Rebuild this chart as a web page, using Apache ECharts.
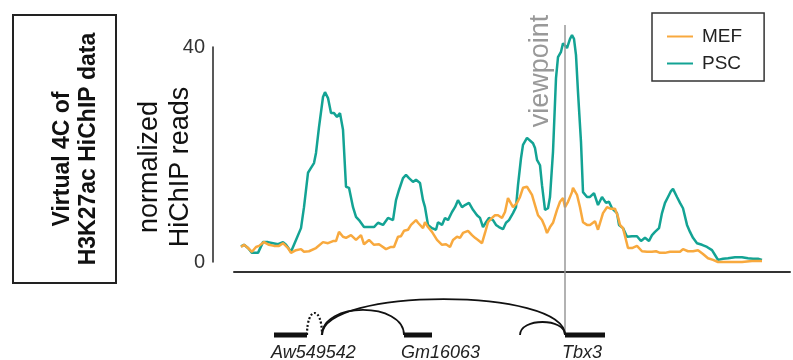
<!DOCTYPE html>
<html><head><meta charset="utf-8">
<script src="https://cdn.jsdelivr.net/npm/echarts@6/dist/echarts.min.js"></script>
<style>html,body{margin:0;padding:0;background:#fff}#c{width:793px;height:360px}</style>
</head><body><div id="c"></div>
<script>
// ---- data (position in bins along the locus, normalized HiChIP reads) ----
const seriesNames = ['MEF', 'PSC'];
const yTicks = [0, 40];
const pscReads = [[1,2.9],[4,3.2],[8,2.6],[12,1.7],[18,1.7],[23,3.7],[28,3.7],[33,3.5],[38,3.3],[43,3.7],[46,3.2],[51,1.9],[56,4.1],[61,6.3],[64,10.2],[68,16.6],[71,17.5],[74,18.4],[76,20.3],[79,25.1],[83,30.7],[85,31.6],[88,30.5],[91,27.7],[94,27.7],[97,27.0],[100,27.7],[103,24.6],[106,14.0],[109,13.8],[113,10.2],[116,8.4],[119,7.8],[124,6.5],[129,6.5],[134,6.5],[138,7.3],[143,6.9],[148,8.2],[153,7.8],[156,11.5],[159,13.4],[163,15.6],[166,16.2],[169,15.6],[173,14.9],[176,15.3],[180,14.7],[183,11.5],[185,10.2],[188,6.9],[192,6.3],[196,6.0],[198,7.4],[202,6.9],[205,8.2],[208,7.8],[212,9.3],[215,10.2],[218,11.5],[222,10.2],[225,10.6],[229,11.0],[233,9.7],[237,8.7],[240,8.2],[243,6.5],[246,7.4],[249,8.2],[253,7.8],[256,6.9],[259,6.5],[263,6.1],[266,7.3],[269,7.8],[273,9.1],[276,10.2],[278,14.3],[281,19.3],[283,21.8],[287,23.1],[289,23.1],[293,22.1],[295,21.2],[297,19.0],[300,18.0],[302,14.3],[305,9.7],[308,10.0],[310,12.1],[313,20.5],[316,34.2],[318,38.1],[321,39.1],[323,40.7],[327,39.8],[330,41.5],[332,42.2],[334,41.5],[336,38.5],[338,31.6],[341,22.3],[343,13.0],[347,12.1],[350,12.1],[354,12.8],[358,10.6],[362,12.1],[366,11.0],[369,11.2],[372,10.0],[374,10.2],[377,9.1],[379,6.9],[383,6.3],[387,4.7],[392,4.8],[397,4.8],[401,3.9],[405,4.5],[409,3.9],[412,5.0],[415,5.6],[419,6.3],[422,9.1],[425,11.0],[428,12.1],[431,13.2],[433,13.6],[437,12.1],[440,11.0],[443,10.0],[447,6.9],[450,5.6],[453,4.5],[457,3.5],[462,3.2],[467,2.8],[472,2.2],[475,1.3],[478,0.4],[483,0.6],[488,0.7],[495,0.9],[502,0.9],[508,0.7],[513,0.6],[518,0.6],[522,0.4]];
const mefReads = [[1,2.8],[4,3.2],[8,2.6],[12,1.9],[16,2.8],[19,3.0],[24,3.7],[29,3.2],[34,3.0],[39,3.0],[43,3.5],[48,2.6],[51,1.7],[56,2.2],[61,2.4],[64,1.9],[69,2.0],[76,2.6],[83,3.7],[88,3.5],[93,3.9],[96,3.9],[99,5.6],[103,4.7],[106,4.5],[111,5.0],[116,4.1],[121,5.0],[124,3.3],[129,4.1],[134,3.2],[139,3.3],[146,2.4],[151,2.8],[154,2.8],[158,4.7],[161,4.8],[164,5.8],[168,6.0],[171,6.9],[176,7.8],[178,7.3],[183,6.3],[185,7.4],[188,6.5],[192,5.6],[197,4.1],[202,3.2],[206,3.3],[210,2.8],[213,4.1],[217,4.7],[220,4.5],[223,5.4],[228,5.8],[232,5.0],[235,4.5],[238,4.1],[242,3.5],[245,5.4],[248,7.4],[252,8.2],[255,8.7],[258,8.7],[262,8.2],[265,9.3],[268,11.9],[270,11.9],[273,10.2],[277,11.0],[280,12.1],[283,13.8],[287,14.0],[289,14.0],[292,12.5],[295,10.6],[298,8.7],[302,7.8],[305,6.5],[307,5.4],[310,6.5],[313,7.3],[317,9.7],[320,11.2],[323,11.9],[325,10.2],[328,11.2],[332,13.0],[333,13.8],[337,12.5],[340,10.2],[343,7.4],[347,6.9],[350,6.9],[355,7.6],[358,6.0],[360,6.3],[363,9.1],[367,10.2],[371,9.9],[375,9.9],[378,8.4],[380,6.9],[383,6.3],[386,4.1],[388,2.6],[392,2.6],[397,3.0],[402,2.0],[407,1.9],[412,1.9],[416,2.0],[420,1.7],[425,1.7],[430,1.9],[435,1.9],[440,1.9],[443,2.4],[448,2.0],[453,2.0],[458,2.2],[463,1.5],[468,0.7],[473,0.4],[478,0.0],[485,0.0],[495,0.0],[502,0.0],[512,0.2],[522,0.2]];
const viewpointPos = 325;
const geneNames = ['Aw549542', 'Gm16063', 'Tbx3'];
const geneStart = [34, 164, 325];
const geneEnd = [67, 192, 365];
const loopFrom = [67, 82, 82, 280];
const loopTo = [82, 164, 325, 325];
const loopHeight = [7.1, 8.1, 11.6, 4.2];
const loopDashed = [1, 0, 0, 0];

// ---- chart ----
const FONT = '"Liberation Sans", Arial, Helvetica, sans-serif';
const chart = echarts.init(document.getElementById('c'), null, {renderer: 'canvas'});
const option = {
  animation: false,
  textStyle: {fontFamily: FONT},
  grid: [
    {left: 234, top: 47, width: 556, height: 215},
    {left: 234, top: 25, width: 556, height: 310}
  ],
  xAxis: [
    {type: 'value', gridIndex: 0, min: -6, max: 550, offset: 10,
     axisLine: {show: true, onZero: false, lineStyle: {color: '#333', width: 2}},
     axisTick: {show: false}, axisLabel: {show: false}, splitLine: {show: false}},
    {type: 'value', gridIndex: 1, min: -6, max: 550, show: false}
  ],
  yAxis: [
    {type: 'value', gridIndex: 0, min: yTicks[0], max: yTicks[1], interval: yTicks[1] - yTicks[0], offset: 21,
     axisLine: {show: true, onZero: false, lineStyle: {color: '#222', width: 1.5}},
     axisTick: {show: false},
     axisLabel: {fontSize: 20, color: '#333', margin: 8, padding: [0, 0, 6, 0], fontFamily: FONT},
     splitLine: {show: false}},
    {type: 'value', gridIndex: 1, min: 0, max: 100, show: false}
  ],
  legend: {
    data: seriesNames, orient: 'vertical', left: 652, top: 13,
    padding: [14, 22, 8, 15], itemGap: 8, itemWidth: 26, itemHeight: 2, icon: 'rect',
    borderColor: '#333', borderWidth: 1.5,
    textStyle: {fontSize: 19, color: '#222', fontFamily: FONT, padding: [0, 0, 0, 4]}
  },
  graphic: [
    {type: 'rect', shape: {x: 13, y: 15, width: 103, height: 268},
     style: {fill: 'none', stroke: '#222', lineWidth: 2}},
    {type: 'text', x: 63, y: 159, rotation: Math.PI / 2,
     style: {text: 'Virtual 4C of', fontSize: 23, fontWeight: 'bold',
             fontFamily: FONT, fill: '#111', align: 'center', verticalAlign: 'middle'}},
    {type: 'text', x: 89, y: 149, rotation: Math.PI / 2,
     style: {text: 'H3K27ac HiChIP data', fontSize: 23, fontWeight: 'bold',
             fontFamily: FONT, fill: '#111', align: 'center', verticalAlign: 'middle'}},
    {type: 'text', x: 165, y: 167, rotation: Math.PI / 2,
     style: {text: 'normalized\nHiChIP reads', fontSize: 27, lineHeight: 31,
             fontFamily: FONT, fill: '#111', align: 'center', verticalAlign: 'middle'}},
    {type: 'text', x: 541, y: 71, rotation: Math.PI / 2,
     style: {text: 'viewpoint', fontSize: 27, fontFamily: FONT, fill: '#999',
             align: 'center', verticalAlign: 'middle'}}
  ],
  series: [
    {name: 'PSC', type: 'line', xAxisIndex: 0, yAxisIndex: 0, data: pscReads, clip: false,
     showSymbol: false, symbol: 'none', color: '#13a394',
     lineStyle: {width: 2.5, color: '#13a394'}, z: 3},
    {name: 'MEF', type: 'line', xAxisIndex: 0, yAxisIndex: 0, data: mefReads, clip: false,
     showSymbol: false, symbol: 'none', color: '#f8a93e',
     lineStyle: {width: 2.5, color: '#f8a93e'}, z: 4},
    {type: 'line', xAxisIndex: 1, yAxisIndex: 1, data: [[viewpointPos, 0]],
     showSymbol: false, symbol: 'none', lineStyle: {width: 0}, silent: true, z: 1,
     markLine: {silent: true, symbol: ['none', 'none'], label: {show: false},
       lineStyle: {color: '#999', width: 1.5, type: 'solid'},
       data: [{xAxis: viewpointPos}]}},
    {type: 'custom', xAxisIndex: 1, yAxisIndex: 1, clip: false, silent: true, z: 5,
     data: loopFrom.map((f, i) => [f, loopTo[i], loopHeight[i], loopDashed[i]]),
     renderItem: function (params, api) {
       const p1 = api.coord([api.value(0), 0]);
       const p2 = api.coord([api.value(1), 0]);
       const cy = api.coord([api.value(0), api.value(2) * 4 / 3])[1];
       const dashed = api.value(3) === 1;
       return {type: 'bezierCurve',
         shape: {x1: p1[0], y1: p1[1], x2: p2[0], y2: p2[1], cpx1: p1[0], cpy1: cy, cpx2: p2[0], cpy2: cy},
         style: {fill: null, stroke: '#111', lineWidth: dashed ? 2.2 : 1.8, lineDash: dashed ? [2, 2] : null}};
     }},
    {type: 'custom', xAxisIndex: 1, yAxisIndex: 1, clip: false, silent: true, z: 6,
     data: geneStart.map((s, i) => [s, geneEnd[i], i]),
     renderItem: function (params, api) {
       const s = api.coord([api.value(0), 0]);
       const e = api.coord([api.value(1), 0]);
       const idx = api.value(2);
       return {type: 'group', children: [
         {type: 'rect', shape: {x: s[0], y: s[1] - 2.5, width: e[0] - s[0], height: 5}, style: {fill: '#111'}},
         {type: 'text', x: s[0] - 3, y: s[1] + 18,
          style: {text: geneNames[idx], fontSize: 18, fontStyle: 'italic', fontFamily: FONT,
                  fill: '#222', align: 'left', verticalAlign: 'middle'}}
       ]};
     }}
  ]
};
chart.setOption(option);
</script></body></html>
